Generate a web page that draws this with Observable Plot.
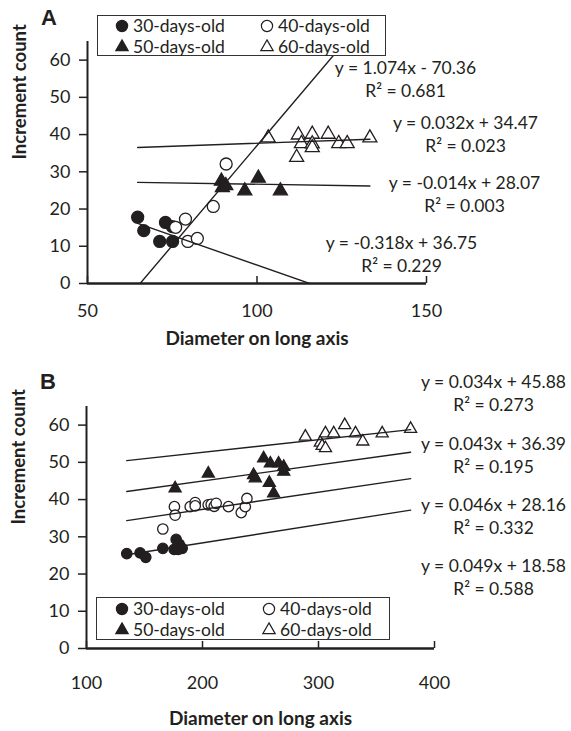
<!DOCTYPE html>
<html><head><meta charset="utf-8">
<script src="https://cdn.jsdelivr.net/npm/d3@7"></script>
<script src="https://cdn.jsdelivr.net/npm/@observablehq/plot@0.6"></script>
<style>
body{margin:0;background:#fff;color:#231f20;font-family:Lato,sans-serif}
#wrap{position:relative;width:571px;height:731px;overflow:hidden}
.panel{position:absolute;left:0}
.tag{position:absolute;font:bold 22px "Liberation Sans",Arial,sans-serif;line-height:1}
.legend{position:absolute;background:#fff;border:1.5px solid #333;box-sizing:border-box}
.legend span{position:absolute;font-size:17.5px;line-height:1;white-space:nowrap;transform:translateY(-50%)}
.legend svg{position:absolute;overflow:visible}
</style></head><body><div id="wrap"></div>
<script>
// ---------- shared categories / ticks ----------
const ageGroups = ["30-days-old", "40-days-old", "50-days-old", "60-days-old"];
const groupSymbols = ["circle", "circle", "triangle", "triangle"];
const groupFills = ["#231f20", "#ffffff", "#231f20", "#ffffff"];
const yTicks = [0, 10, 20, 30, 40, 50, 60];
const xTitle = "Diameter on long axis";
const yTitle = "Increment count";

// ---------- Panel A data ----------
const aX30 = [64.8, 66.6, 73.0, 75.0, 71.3, 75.1];
const aY30 = [17.8, 14.2, 16.4, 15.3, 11.3, 11.3];
const aX40 = [76.0, 78.9, 79.6, 82.4, 87.1, 90.9];
const aY40 = [15.1, 17.3, 11.3, 12.1, 20.7, 32.1];
const aX50 = [89.5, 89.8, 90.8, 96.4, 100.4, 106.9];
const aY50 = [27.5, 25.8, 26.3, 24.9, 28.3, 24.9];
const aX60 = [103.3, 111.7, 112.2, 113.1, 116.3, 116.3, 116.3, 121.0, 124.1, 126.6, 133.3];
const aY60 = [39.1, 33.9, 39.9, 37.6, 40.1, 37.5, 36.5, 40.1, 37.6, 37.6, 39.1];
const aSlopes = [-0.318, 1.074, -0.014, 0.032];
const aIntercepts = [36.75, -70.36, 28.07, 34.47];
const aR2 = ["0.229", "0.681", "0.003", "0.023"];
const aXTicks = [50, 100, 150];

// ---------- Panel B data ----------
const bX30 = [134.7, 146.2, 151.1, 165.8, 177.3, 175.6, 179.9, 182.5, 179.0];
const bY30 = [25.5, 25.7, 24.5, 26.9, 29.3, 26.6, 28.0, 26.9, 26.6];
const bX40 = [165.8, 175.8, 176.4, 189.4, 193.7, 193.7, 204.9, 207.5, 210.1, 211.8, 222.4, 233.4, 236.9, 238.3];
const bY40 = [32.1, 38.1, 35.8, 38.1, 39.2, 38.3, 38.6, 38.7, 38.2, 39.0, 38.1, 36.5, 38.1, 40.3];
const bX50 = [176.4, 205.0, 252.7, 258.5, 265.6, 270.0, 270.0, 244.0, 245.5, 257.6, 261.3];
const bY50 = [43.0, 47.0, 51.1, 49.7, 49.7, 48.8, 47.5, 46.6, 45.7, 44.5, 41.7];
const bX60 = [288.7, 301.6, 303.1, 306.0, 306.0, 313.1, 322.6, 331.9, 338.2, 354.9, 379.4];
const bY60 = [56.9, 55.3, 54.4, 53.8, 57.8, 57.8, 60.0, 57.8, 55.6, 57.8, 59.0];
const bSlopes = [0.049, 0.046, 0.043, 0.034];
const bIntercepts = [18.58, 28.16, 36.39, 45.88];
const bR2 = ["0.588", "0.332", "0.195", "0.273"];
const bXTicks = [100, 200, 300, 400];

// ---------- layout (pixels) ----------
const layoutA = {
  tag: "A", top: 0, height: 365, marginLeft: 87, marginRight: 145, marginTop: 41, marginBottom: 82,
  xDomain: [50, 150], labelGap: 21, titleGap: 55, circleR: 6, triR: 5.2,
  eqPos: [[401, 243], [405, 68], [464, 183], [465, 123]],
  tagPos: [41, 7],
  legend: {left: 97, top: 15, width: 289, height: 41, col: [24, 35, 169, 180], row: [10, 31]}
};
const layoutB = {
  tag: "B", top: 365, height: 366, marginLeft: 86, marginRight: 137, marginTop: 41, marginBottom: 83,
  xDomain: [100, 400], labelGap: 28, titleGap: 70, circleR: 5.2, triR: 4.5,
  eqPos: [[493, 566], [493, 505], [493, 444], [493, 382]],
  tagPos: [40, 371],
  legend: {left: 96, top: 597, width: 294, height: 43, col: [25, 36, 172, 183], row: [11, 32]}
};

function makePanel(cfg, xs, ys, slopes, intercepts, r2, xTicks) {
  const points = [];
  xs.forEach((arr, g) => arr.forEach((x, j) => points.push({x, y: ys[g][j], g})));
  const [xmin, xmax] = d3.extent(points, d => d.x);
  const trend = [];
  slopes.forEach((m, g) => [xmin, xmax].forEach(x => trend.push({x, y: m * x + intercepts[g], g})));
  const fmt = (m, b) => `y = ${m.toFixed(3)}x ${b < 0 ? "-" : "+"} ${Math.abs(b).toFixed(2)}`;

  const marks = [];
  ageGroups.forEach((name, g) => {
    marks.push(Plot.dot(points.filter(d => d.g === g), {
      x: "x", y: "y", symbol: groupSymbols[g],
      r: groupSymbols[g] === "circle" ? cfg.circleR : cfg.triR,
      fill: groupFills[g], stroke: "#231f20", strokeWidth: 1.3
    }));
  });
  marks.push(Plot.line(trend, {x: "x", y: "y", z: "g", stroke: "#231f20", strokeWidth: 1.4, clip: true}));
  marks.push(Plot.ruleX([cfg.xDomain[0]], {stroke: "#231f20", strokeWidth: 2}));
  marks.push(Plot.ruleY([0], {stroke: "#231f20", strokeWidth: 2.6}));
  marks.push(Plot.axisY({ticks: yTicks, tickSize: 8, tickPadding: 9, tickFormat: d => d, strokeWidth: 1.5, label: null}));
  marks.push(Plot.axisX({ticks: xTicks, tickSize: -7, tickPadding: cfg.labelGap + 7, tickFormat: d => d, strokeWidth: 1.5, label: null}));
  marks.push(Plot.text([xTitle], {frameAnchor: "bottom", dy: cfg.titleGap, fontWeight: "bold", fontSize: 19, lineAnchor: "middle"}));
  marks.push(Plot.text([yTitle], {frameAnchor: "left", rotate: -90, dx: -67, dy: -3, fontWeight: "bold", fontSize: 18.5}));
  slopes.forEach((m, g) => {
    const [cx, cy] = cfg.eqPos[g];
    const dx = cx - cfg.marginLeft, dy = cy - cfg.top - cfg.marginTop;
    marks.push(Plot.text([fmt(m, intercepts[g])], {frameAnchor: "top-left", dx, dy, textAnchor: "middle", lineAnchor: "middle", fontSize: 17.5}));
    marks.push(Plot.text([`R² = ${r2[g]}`], {frameAnchor: "top-left", dx, dy: dy + 23, textAnchor: "middle", lineAnchor: "middle", fontSize: 17.5}));
  });

  const chart = Plot.plot({
    width: 571, height: cfg.height,
    marginLeft: cfg.marginLeft, marginRight: cfg.marginRight, marginTop: cfg.marginTop, marginBottom: cfg.marginBottom,
    x: {domain: cfg.xDomain, label: null}, y: {domain: [0, 65], label: null},
    style: {fontFamily: "Lato, sans-serif", fontSize: "18px", color: "#231f20", background: "transparent", overflow: "visible"},
    marks
  });
  const holder = document.createElement("div");
  holder.className = "panel";
  holder.style.top = cfg.top + "px";
  holder.appendChild(chart);
  document.getElementById("wrap").appendChild(holder);

  const tag = document.createElement("div");
  tag.className = "tag"; tag.textContent = cfg.tag;
  tag.style.left = cfg.tagPos[0] + "px"; tag.style.top = cfg.tagPos[1] + "px";
  document.getElementById("wrap").appendChild(tag);

  // legend
  const L = cfg.legend;
  const box = document.createElement("div");
  box.className = "legend";
  Object.assign(box.style, {left: L.left + "px", top: L.top + "px", width: L.width + "px", height: L.height + "px"});
  ageGroups.forEach((name, g) => {
    const c = g % 2, r = Math.floor(g / 2);
    const mx = L.col[c * 2], tx = L.col[c * 2 + 1], y = L.row[r];
    const s = d3.create("svg").attr("width", 1).attr("height", 1)
      .style("left", mx + "px").style("top", y + "px");
    const size = groupSymbols[g] === "circle" ? Math.PI * 5.6 * 5.6 : Math.PI * 4.6 * 4.6;
    s.append("path")
      .attr("d", d3.symbol(groupSymbols[g] === "circle" ? d3.symbolCircle : d3.symbolTriangle, size)())
      .attr("fill", groupFills[g]).attr("stroke", "#231f20").attr("stroke-width", 1.2);
    box.appendChild(s.node());
    const t = document.createElement("span");
    t.textContent = name; t.style.left = tx + "px"; t.style.top = y + "px";
    box.appendChild(t);
  });
  document.getElementById("wrap").appendChild(box);
}

makePanel(layoutA, [aX30, aX40, aX50, aX60], [aY30, aY40, aY50, aY60], aSlopes, aIntercepts, aR2, aXTicks);
makePanel(layoutB, [bX30, bX40, bX50, bX60], [bY30, bY40, bY50, bY60], bSlopes, bIntercepts, bR2, bXTicks);
</script></body></html>
